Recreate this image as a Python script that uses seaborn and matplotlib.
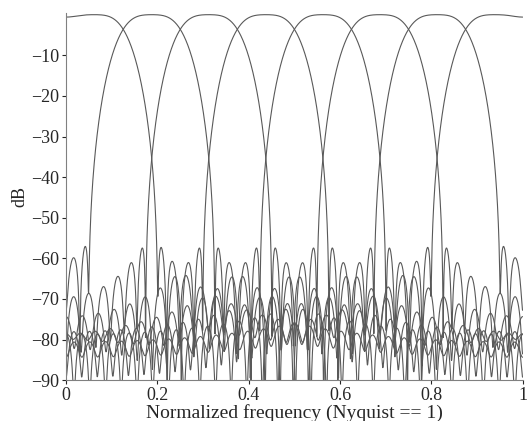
# 8-kanal kosinüs modülasyonlu filtre bankası genlik yanıtları
import numpy as np; import pandas as pd
import matplotlib
matplotlib.use("Agg")
import matplotlib.pyplot as plt
import seaborn as sns

#! VERİLER
kanal_merkezleri = [0.0625, 0.1875, 0.3125, 0.4375, 0.5625, 0.6875, 0.8125, 0.9375]  # Nyquist == 1
kanal_sayisi = 8
tap_sayisi = 58          # prototip filtre uzunluğu
kaiser_beta = 5.6        # ~ -57 dB ilk yan lob
kesim_carpani = 1.18
yticks = [-90, -80, -70, -60, -50, -40, -30, -20, -10]
xticks = [0, 0.2, 0.4, 0.6, 0.8, 1]
xtick_labels = ["0", "0.2", "0.4", "0.6", "0.8", "1"]

#! PROTOTİP ALÇAK GEÇİREN FİLTRE
n = np.arange(tap_sayisi) - (tap_sayisi - 1) / 2
kesim = 1.0 / kanal_sayisi / 2 * kesim_carpani
p = kesim * np.sinc(kesim * n) * np.kaiser(tap_sayisi, kaiser_beta)
p = p / p.sum()

nfft = 4096
f = np.arange(nfft // 2 + 1) / (nfft // 2)

satirlar = []
for k, fk in enumerate(kanal_merkezleri):
    h = 2 * p * np.cos(np.pi * fk * n + (-1) ** k * np.pi / 4)
    H = np.abs(np.fft.rfft(h, nfft))
    dB = 20 * np.log10(np.maximum(H, 1e-12))
    dB = dB - dB.max()
    satirlar.append(pd.DataFrame({"f": f, "dB": dB, "kanal": k}))
df = pd.concat(satirlar, ignore_index=True)

#! GRAFİK
sns.set_style("ticks")
plt.rcParams["font.family"] = ["Liberation Serif", "DejaVu Serif"]
fig = plt.figure(figsize=(5.29, 4.21), dpi=100)
ax = fig.add_axes([0.125, 0.097, 0.863, 0.872])
sns.lineplot(data=df, x="f", y="dB", units="kanal", estimator=None,
             color="0.35", linewidth=0.8, ax=ax, legend=False)
ax.set_xlim(0, 1)
ax.set_ylim(-90, 0.4)
ax.set_yticks(yticks)
ax.set_yticklabels([f"\u2212{abs(v)}" for v in yticks])
ax.set_xticks(xticks)
ax.set_xticklabels(xtick_labels)
ax.tick_params(labelsize=13, length=3, width=0.8, pad=2, colors="0.15")
ax.set_xlabel("Normalized frequency (Nyquist == 1)", fontsize=14, labelpad=0)
ax.set_ylabel("dB", fontsize=13, labelpad=2)
for s in ["top", "right"]:
    ax.spines[s].set_visible(False)
for s in ["left", "bottom"]:
    ax.spines[s].set_color("0.5")
    ax.spines[s].set_linewidth(0.8)
fig.savefig("out.png", dpi=100)
